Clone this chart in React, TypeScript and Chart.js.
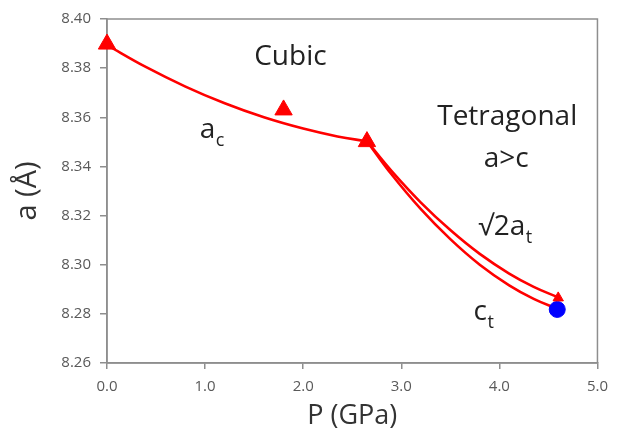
import React, { useEffect, useRef } from "react";
import { Chart, registerables } from "chart.js";

Chart.register(...registerables);

// ---- data ----
const pressureMin = 0;
const pressureMax = 5;
const latticeMin = 8.26;
const latticeMax = 8.4;

// measured cubic points (triangles)
const cubicP = [0, 1.8, 2.65];
const cubicA = [8.3898, 8.363, 8.3501];

// fitted cubic curve a_c
const cubicFitP = [0, 0.4, 0.8, 1.2, 1.6, 2.0, 2.35, 2.65];
const cubicFitA = [8.3894, 8.3804, 8.3725, 8.3657, 8.36, 8.3554, 8.3522, 8.3502];

// fitted tetragonal curve sqrt(2) a_t
const atFitP = [2.65, 2.9, 3.2, 3.5, 3.8, 4.1, 4.35, 4.6];
const atFitA = [8.3503, 8.3382, 8.3253, 8.3141, 8.3044, 8.2964, 8.291, 8.2867];

// fitted tetragonal curve c_t
const ctFitP = [2.65, 2.9, 3.2, 3.5, 3.8, 4.1, 4.35, 4.6];
const ctFitA = [8.3503, 8.3368, 8.3226, 8.3104, 8.3, 8.2916, 8.2861, 8.2819];

// measured tetragonal points
const atPointP = [4.6];
const atPointA = [8.2865];
const ctPointP = [4.59];
const ctPointA = [8.2818];

const toXY = (xs: number[], ys: number[]) => xs.map((x, i) => ({ x, y: ys[i] }));

const FONT = '"Open Sans", "Noto Sans", sans-serif';

const framePlugin = {
  id: "frame",
  beforeDatasetsDraw(chart: any) {
    const { ctx, chartArea } = chart;
    ctx.save();
    ctx.strokeStyle = "#8e8e8e";
    ctx.lineWidth = 1.5;
    ctx.strokeRect(chartArea.left, chartArea.top, chartArea.right - chartArea.left, chartArea.bottom - chartArea.top);
    ctx.restore();
  },
};

const labelsPlugin = {
  id: "phaseLabels",
  afterDatasetsDraw(chart: any) {
    const { ctx } = chart;
    const x = chart.scales.x;
    const y = chart.scales.y;
    const big = `28px ${FONT}`;
    const small = `18px ${FONT}`;
    ctx.save();
    ctx.fillStyle = "#222222";
    ctx.textBaseline = "alphabetic";
    ctx.font = big;
    ctx.textAlign = "center";
    ctx.fillText("Cubic", x.getPixelForValue(1.87), y.getPixelForValue(8.3813));
    ctx.fillText("Tetragonal", x.getPixelForValue(4.08), y.getPixelForValue(8.3569));
    ctx.fillText("a>c", x.getPixelForValue(4.07), y.getPixelForValue(8.3398));
    const sub = (main: string, s: string, px: number, py: number) => {
      const left = x.getPixelForValue(px);
      const base = y.getPixelForValue(py);
      ctx.textAlign = "left";
      ctx.font = big;
      ctx.fillText(main, left, base);
      const w = ctx.measureText(main).width;
      ctx.font = small;
      ctx.fillText(s, left + w + 0.5, base + 8);
    };
    sub("a", "c", 0.946, 8.3516);
    sub("\u221A2a", "t", 3.785, 8.3121);
    sub("c", "t", 3.737, 8.2775);
    ctx.restore();
  },
};

export default function App() {
  const ref = useRef<HTMLCanvasElement | null>(null);

  useEffect(() => {
    if (!ref.current) return;
    const red = "#ff0000";
    const lineCommon = {
      showLine: true,
      pointRadius: 0,
      borderColor: red,
      borderWidth: 2.6,
      tension: 0.4,
    };
    const chart = new Chart(ref.current, {
      type: "scatter",
      data: {
        datasets: [
          {
            label: "cubic points",
            data: toXY(cubicP, cubicA),
            pointStyle: "triangle",
            pointRadius: 10,
            backgroundColor: red,
            borderColor: red,
            borderWidth: 1,
            showLine: false,
            clip: false as any,
          },
          {
            label: "sqrt2 at point",
            data: toXY(atPointP, atPointA),
            pointStyle: "triangle",
            pointRadius: 6,
            backgroundColor: red,
            borderColor: red,
            showLine: false,
            clip: false as any,
          },
          {
            label: "ct point",
            data: toXY(ctPointP, ctPointA),
            pointStyle: "circle",
            pointRadius: 8,
            backgroundColor: "#0000ff",
            borderColor: "#0000ff",
            showLine: false,
            clip: false as any,
          },
          { label: "a_c", data: toXY(cubicFitP, cubicFitA), ...lineCommon },
          { label: "sqrt2 a_t", data: toXY(atFitP, atFitA), ...lineCommon },
          { label: "c_t", data: toXY(ctFitP, ctFitA), ...lineCommon },
        ],
      },
      options: {
        responsive: false,
        animation: false,
        events: [],
        layout: { padding: { left: 0, top: 19, right: 15, bottom: 0 } },
        plugins: {
          legend: { display: false },
          tooltip: { enabled: false },
        },
        scales: {
          x: {
            type: "linear",
            min: pressureMin,
            max: pressureMax,
            afterFit: (s: any) => {
              s.height = 70;
            },
            ticks: {
              stepSize: 1,
              padding: 9,
              color: "#595959",
              font: { family: FONT, size: 15 },
              callback: (v: any) => Number(v).toFixed(1),
            },
            grid: { drawOnChartArea: false, drawTicks: true, tickLength: 6, color: "#8e8e8e", lineWidth: 1.5 },
            border: { color: "#8e8e8e", width: 1.5 },
            title: {
              display: true,
              text: "P (GPa)",
              color: "#333333",
              font: { family: FONT, size: 27 },
              padding: { top: 0, bottom: 0 },
            },
          },
          y: {
            type: "linear",
            min: latticeMin,
            max: latticeMax,
            afterFit: (s: any) => {
              s.width = 107;
            },
            ticks: {
              stepSize: 0.02,
              padding: 9,
              color: "#595959",
              font: { family: FONT, size: 15 },
              callback: (v: any) => Number(v).toFixed(2),
            },
            grid: { drawOnChartArea: false, drawTicks: true, tickLength: 7, color: "#8e8e8e", lineWidth: 1.5 },
            border: { color: "#8e8e8e", width: 1.5 },
            title: {
              display: true,
              text: "a (\u00C5)",
              color: "#333333",
              font: { family: FONT, size: 29 },
              padding: { top: 10, bottom: 0 },
            },
          },
        },
      },
      plugins: [framePlugin, labelsPlugin],
    } as any);
    return () => chart.destroy();
  }, []);

  return (
    <div style={{ position: "fixed", left: 0, top: 0, width: 617, height: 433, background: "#ffffff" }}>
      <canvas ref={ref} width={617} height={433} style={{ display: "block" }} />
    </div>
  );
}
